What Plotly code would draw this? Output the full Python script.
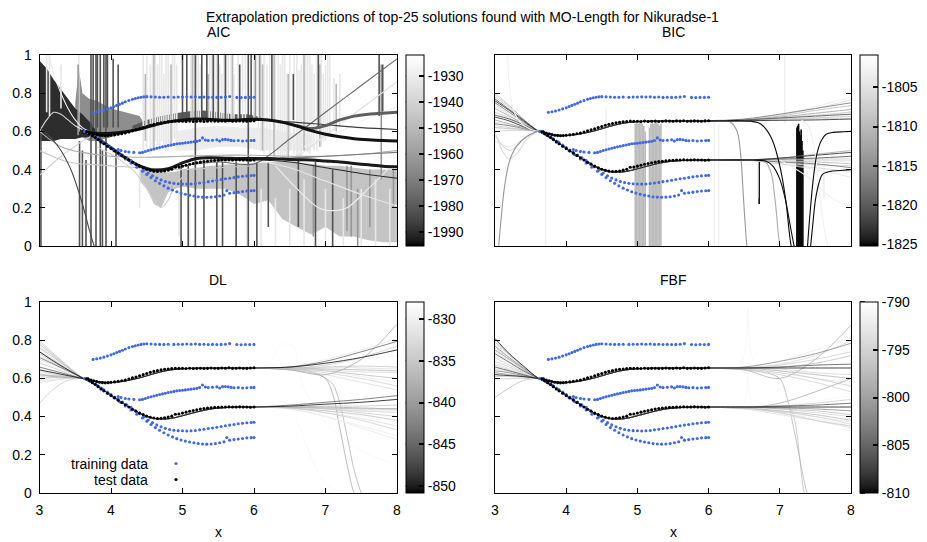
import plotly.graph_objects as go

# ---------------- Nikuradse observations ----------------
TRAIN_A_X = [3.75, 3.80, 3.85, 3.90, 3.95, 4.00, 4.04, 4.08, 4.12, 4.16, 4.20, 4.25, 4.30, 4.34, 4.38,
             4.42, 4.46, 4.50, 4.56, 4.62, 4.68, 4.74, 4.80, 4.88, 4.94, 5.00, 5.06, 5.12, 5.18, 5.24,
             5.30, 5.36, 5.42, 5.48, 5.54, 5.60, 5.66, 5.76, 5.82, 5.88, 5.94, 6.00]
TRAIN_A_Y = [0.700, 0.703, 0.707, 0.712, 0.718, 0.724, 0.730, 0.736, 0.742, 0.748, 0.755, 0.762, 0.768,
             0.772, 0.776, 0.779, 0.781, 0.782, 0.781, 0.780, 0.779, 0.779, 0.780, 0.779, 0.780, 0.780,
             0.781, 0.780, 0.781, 0.779, 0.780, 0.778, 0.779, 0.778, 0.779, 0.780, 0.783, 0.778, 0.777,
             0.778, 0.778, 0.779]
TRAIN_B_X = [4.10, 4.14, 4.20, 4.25, 4.32, 4.40, 4.44, 4.48, 4.52, 4.56, 4.60, 4.64, 4.68, 4.72, 4.76,
             4.80, 4.84, 4.88, 4.92, 4.96, 5.00, 5.04, 5.08, 5.12, 5.16, 5.20, 5.24, 5.28, 5.32, 5.36,
             5.42, 5.48, 5.52, 5.56, 5.60, 5.64, 5.68, 5.72, 5.78, 5.84, 5.90, 5.96, 6.00]
TRAIN_B_Y = [0.505, 0.500, 0.495, 0.492, 0.490, 0.488, 0.490, 0.495, 0.500, 0.504, 0.508, 0.512, 0.516,
             0.519, 0.522, 0.526, 0.529, 0.532, 0.535, 0.537, 0.538, 0.540, 0.542, 0.544, 0.546, 0.548,
             0.552, 0.566, 0.555, 0.552, 0.554, 0.556, 0.550, 0.557, 0.558, 0.556, 0.553, 0.551, 0.552,
             0.550, 0.551, 0.552, 0.553]
TRAIN_C_X = [3.63, 3.67, 3.70, 3.74, 3.78, 3.82, 3.86, 3.90, 3.95, 4.00, 4.05, 4.10, 4.16, 4.22, 4.28,
             4.34, 4.40, 4.46, 4.52, 4.58, 4.64, 4.70, 4.76, 4.82, 4.88, 4.94, 5.00, 5.06, 5.12, 5.18,
             5.24, 5.30, 5.36, 5.42, 5.48, 5.54, 5.60, 5.66, 5.72, 5.78, 5.84, 5.90, 5.96, 6.00]
TRAIN_C_Y = [0.600, 0.595, 0.590, 0.580, 0.570, 0.560, 0.550, 0.540, 0.528, 0.515, 0.502, 0.490, 0.476,
             0.462, 0.448, 0.432, 0.415, 0.398, 0.382, 0.368, 0.356, 0.346, 0.338, 0.332, 0.328, 0.326,
             0.325, 0.324, 0.325, 0.327, 0.330, 0.333, 0.337, 0.340, 0.344, 0.348, 0.352, 0.355, 0.358,
             0.362, 0.365, 0.367, 0.369, 0.370]
TRAIN_D_X = [3.65, 3.72, 3.80, 3.88, 3.96, 4.04, 4.12, 4.20, 4.28, 4.36, 4.44, 4.50, 4.56, 4.62, 4.68,
             4.74, 4.80, 4.86, 4.92, 4.98, 5.04, 5.10, 5.16, 5.22, 5.28, 5.34, 5.40, 5.46, 5.52, 5.58,
             5.62, 5.66, 5.72, 5.78, 5.84, 5.90, 5.96, 6.00]
TRAIN_D_Y = [0.598, 0.585, 0.565, 0.545, 0.522, 0.500, 0.478, 0.456, 0.434, 0.412, 0.392, 0.375, 0.358,
             0.342, 0.328, 0.315, 0.303, 0.293, 0.284, 0.277, 0.271, 0.266, 0.262, 0.258, 0.256, 0.255,
             0.256, 0.258, 0.262, 0.267, 0.290, 0.276, 0.279, 0.282, 0.285, 0.288, 0.289, 0.290]
TEST_E_X = [3.68, 3.72, 3.76, 3.80, 3.84, 3.88, 3.92, 3.96, 4.00, 4.05, 4.10, 4.15, 4.20, 4.25, 4.30,
            4.35, 4.40, 4.45, 4.50, 4.55, 4.60, 4.65, 4.70, 4.75, 4.80, 4.85, 4.90, 4.95, 5.00, 5.05,
            5.10, 5.15, 5.20, 5.25, 5.30, 5.35, 5.40, 5.45, 5.50, 5.55, 5.60, 5.65, 5.70, 5.75, 5.80,
            5.85, 5.90, 5.95, 6.00]
TEST_E_Y = [0.598, 0.592, 0.588, 0.584, 0.580, 0.578, 0.577, 0.578, 0.580, 0.582, 0.585, 0.588, 0.592,
            0.597, 0.603, 0.608, 0.614, 0.620, 0.626, 0.632, 0.637, 0.641, 0.645, 0.648, 0.650, 0.652,
            0.654, 0.653, 0.653, 0.652, 0.654, 0.652, 0.653, 0.654, 0.652, 0.653, 0.655, 0.654, 0.653,
            0.655, 0.654, 0.656, 0.653, 0.654, 0.655, 0.654, 0.653, 0.655, 0.656]
TEST_F_X = [3.66, 3.70, 3.74, 3.78, 3.82, 3.86, 3.90, 3.95, 4.00, 4.05, 4.10, 4.15, 4.20, 4.25, 4.30,
            4.35, 4.40, 4.45, 4.50, 4.55, 4.60, 4.65, 4.70, 4.75, 4.80, 4.85, 4.90, 4.95, 5.00, 5.05,
            5.10, 5.15, 5.20, 5.25, 5.30, 5.35, 5.40, 5.45, 5.50, 5.55, 5.60, 5.65, 5.70, 5.75, 5.80,
            5.85, 5.90, 5.95, 6.00]
TEST_F_Y = [0.598, 0.588, 0.578, 0.568, 0.557, 0.545, 0.535, 0.522, 0.510, 0.498, 0.486, 0.474, 0.462,
            0.450, 0.438, 0.428, 0.418, 0.410, 0.402, 0.396, 0.392, 0.390, 0.391, 0.393, 0.397, 0.402,
            0.412, 0.413, 0.418, 0.423, 0.428, 0.432, 0.436, 0.439, 0.442, 0.444, 0.446, 0.448, 0.449,
            0.450, 0.450, 0.451, 0.450, 0.450, 0.451, 0.450, 0.450, 0.449, 0.450]

# ---------------- shared model knots ----------------
X_LEFT = [3.0, 3.2, 3.4]
X_CORE = [3.6, 3.8, 4.0, 4.2, 4.4, 4.6, 4.8, 5.0, 5.2, 5.4, 5.6, 5.8, 6.0]
X_RIGHT = [6.5, 7.0, 7.5, 8.0]
UPPER_CORE = [0.600, 0.584, 0.578, 0.587, 0.603, 0.625, 0.643, 0.651, 0.654, 0.655, 0.655, 0.655, 0.655]
LOWER_CORE = [0.603, 0.562, 0.512, 0.462, 0.418, 0.390, 0.388, 0.404, 0.424, 0.440, 0.447, 0.450, 0.450]

# ---------------- colour ranges and colorbar ticks ----------------
AIC_CRANGE = [-1995.4, -1921.9]
BIC_CRANGE = [-1825.2, -1800.9]
DL_CRANGE = [-850.8, -828.0]
FBF_CRANGE = [-810.0, -790.0]
AIC_CB_TICKS = [-1990, -1980, -1970, -1960, -1950, -1940, -1930]
BIC_CB_TICKS = [-1825, -1820, -1815, -1810, -1805]
DL_CB_TICKS = [-850, -845, -840, -835, -830]
FBF_CB_TICKS = [-810, -805, -800, -795, -790]
X_TICKS = [3, 4, 5, 6, 7, 8]
Y_TICKS = [0, 0.2, 0.4, 0.6, 0.8, 1]

# ---------------- DL solutions ----------------
DL_SCORES = [-850.5, -845.0, -837.0, -836.0, -835.0, -834.5, -834.0, -833.0, -832.5, -832.0, -831.0,
             -830.5, -829.5, -838.5]
DL_UPPER_LEFT = [[0.645, 0.63, 0.615], [0.66, 0.64, 0.62], [0.62, 0.615, 0.61], [0.60, 0.605, 0.605],
                 [0.47, 0.545, 0.59], [0.68, 0.655, 0.625], [0.64, 0.625, 0.615], [0.58, 0.59, 0.60],
                 [0.61, 0.61, 0.605], [0.63, 0.62, 0.61], [0.59, 0.595, 0.60], [0.655, 0.635, 0.62],
                 [0.60, 0.60, 0.60], [0.62, 0.61, 0.605]]
DL_UPPER_RIGHT = [[0.66, 0.68, 0.71, 0.75], [0.66, 0.69, 0.74, 0.795], [0.655, 0.65, 0.645, 0.64],
                  [0.65, 0.64, 0.62, 0.60], [0.655, 0.66, 0.665, 0.66], [0.655, 0.67, 0.71, 0.77],
                  [0.65, 0.63, 0.60, 0.56], [0.655, 0.645, 0.635, 0.63], [0.65, 0.62, 0.58, 0.54],
                  [0.655, 0.66, 0.655, 0.65], [0.66, 0.70, 0.75, 0.81], [0.655, 0.64, 0.61, 0.58],
                  [0.66, 0.68, 0.70, 0.72], [0.645, 0.62, 0.70, 0.885]]
DL_LOWER_LEFT = [[0.74, 0.69, 0.645], [0.71, 0.675, 0.64], [0.76, 0.71, 0.655], [0.78, 0.72, 0.66],
                 [0.73, 0.685, 0.64], [0.80, 0.73, 0.665], [0.79, 0.725, 0.66], [0.70, 0.67, 0.635],
                 [0.72, 0.68, 0.64], [0.77, 0.715, 0.655], [0.75, 0.70, 0.65], [0.69, 0.66, 0.63],
                 [0.745, 0.70, 0.65], [0.74, 0.695, 0.645]]
DL_LOWER_RIGHT = [[0.455, 0.465, 0.475, 0.49], [0.46, 0.475, 0.49, 0.51], [0.45, 0.445, 0.44, 0.44],
                  [0.445, 0.43, 0.41, 0.38], [0.45, 0.455, 0.455, 0.46], [0.45, 0.44, 0.42, 0.40],
                  [0.445, 0.42, 0.38, 0.33], [0.45, 0.44, 0.43, 0.42], [0.445, 0.42, 0.39, 0.35],
                  [0.45, 0.44, 0.43, 0.43], [0.44, 0.40, 0.34, 0.28], [0.44, 0.40, 0.35, 0.30],
                  [0.445, 0.43, 0.40, 0.37], [0.45, 0.45, 0.445, 0.44]]
DL_SPECIAL_SCORES = [-838.5, -837.5, -829.0, -829.0]
DL_SPECIAL_X = [[6.0, 6.4, 6.8, 7.0, 7.1, 7.2, 7.3, 7.38, 7.45],
                [6.0, 6.5, 6.9, 7.1, 7.2, 7.3, 7.4, 7.47, 7.55],
                [6.0, 6.15, 6.25, 6.32, 6.38, 6.5, 6.56, 6.62, 6.7, 6.85, 7.1, 7.5, 8.0],
                [6.0, 6.2, 6.4, 6.55, 6.7, 6.85, 7.0, 7.2, 7.5, 8.0]]
DL_SPECIAL_Y = [[0.655, 0.65, 0.635, 0.60, 0.52, 0.34, 0.15, 0.02, -0.05],
                [0.655, 0.645, 0.62, 0.57, 0.47, 0.30, 0.12, 0.03, -0.05],
                [0.655, 0.66, 0.70, 0.76, 0.78, 0.78, 0.77, 0.66, 0.55, 0.45, 0.33, 0.22, 0.145],
                [0.45, 0.47, 0.48, 0.42, 0.28, 0.14, 0.05, 0.01, 0.002, 0.0]]

# ---------------- FBF solutions ----------------
FBF_SCORES = [-809.5, -806.0, -802.0, -797.5, -797.0, -796.0, -795.5, -795.0, -794.5, -794.0, -793.0,
              -792.0, -791.0, -798.5]
FBF_UPPER_LEFT = [[0.62, 0.615, 0.61], [0.66, 0.64, 0.62], [0.64, 0.63, 0.615], [0.50, 0.55, 0.59],
                  [0.63, 0.62, 0.61], [0.61, 0.61, 0.605], [0.67, 0.645, 0.62], [0.65, 0.635, 0.615],
                  [0.60, 0.60, 0.60], [0.68, 0.65, 0.625], [0.62, 0.615, 0.61], [0.59, 0.595, 0.60],
                  [0.65, 0.63, 0.615], [0.63, 0.62, 0.61]]
FBF_UPPER_RIGHT = [[0.655, 0.655, 0.655, 0.655], [0.655, 0.66, 0.67, 0.675], [0.66, 0.69, 0.73, 0.785],
                   [0.655, 0.64, 0.62, 0.60], [0.655, 0.66, 0.68, 0.72], [0.65, 0.63, 0.60, 0.56],
                   [0.655, 0.67, 0.70, 0.74], [0.65, 0.62, 0.58, 0.53], [0.655, 0.65, 0.63, 0.62],
                   [0.655, 0.675, 0.72, 0.80], [0.655, 0.64, 0.60, 0.58], [0.66, 0.69, 0.75, 0.82],
                   [0.655, 0.645, 0.62, 0.60], [0.645, 0.60, 0.70, 0.88]]
FBF_LOWER_LEFT = [[0.81, 0.73, 0.665], [0.73, 0.685, 0.64], [0.77, 0.71, 0.655], [0.75, 0.70, 0.65],
                  [0.79, 0.725, 0.66], [0.69, 0.66, 0.63], [0.71, 0.67, 0.635], [0.80, 0.73, 0.665],
                  [0.76, 0.705, 0.65], [0.74, 0.69, 0.645], [0.78, 0.72, 0.66], [0.72, 0.68, 0.64],
                  [0.70, 0.67, 0.635], [0.75, 0.70, 0.65]]
FBF_LOWER_RIGHT = [[0.45, 0.45, 0.45, 0.45], [0.45, 0.455, 0.46, 0.47], [0.45, 0.445, 0.44, 0.43],
                   [0.445, 0.43, 0.41, 0.38], [0.45, 0.44, 0.43, 0.41], [0.445, 0.42, 0.38, 0.35],
                   [0.45, 0.455, 0.47, 0.49], [0.445, 0.425, 0.40, 0.36], [0.45, 0.44, 0.42, 0.40],
                   [0.44, 0.41, 0.38, 0.34], [0.445, 0.43, 0.40, 0.37], [0.44, 0.42, 0.39, 0.35],
                   [0.45, 0.46, 0.48, 0.51], [0.445, 0.47, 0.53, 0.60]]
FBF_SPECIAL_SCORES = [-791.0, -791.0, -798.0, -797.0]
FBF_SPECIAL_X = [[6.0, 6.3, 6.45, 6.5, 6.53, 6.55, 6.57, 6.6, 6.65, 6.8, 7.0],
                 [6.0, 6.35, 6.48, 6.53, 6.55, 6.57, 6.62, 6.75, 7.0],
                 [6.0, 6.5, 6.8, 7.0, 7.1, 7.2, 7.3, 7.36, 7.42],
                 [6.0, 6.5, 6.9, 7.05, 7.15, 7.22, 7.28, 7.33, 7.38]]
FBF_SPECIAL_Y = [[0.655, 0.66, 0.68, 0.72, 0.80, 0.97, 0.80, 0.72, 0.68, 0.66, 0.655],
                 [0.45, 0.45, 0.46, 0.52, 0.63, 0.52, 0.46, 0.45, 0.45],
                 [0.655, 0.645, 0.63, 0.60, 0.50, 0.33, 0.14, 0.03, -0.05],
                 [0.45, 0.45, 0.45, 0.45, 0.44, 0.36, 0.18, 0.02, -0.05]]

# ---------------- BIC solutions ----------------
BIC_SCORES = [-1824.0, -1821.5, -1818.0, -1813.0, -1810.0, -1809.0, -1808.0, -1807.0, -1806.0, -1805.0,
              -1803.5, -1802.0]
BIC_UPPER_LEFT = [[0.675, 0.655, 0.625], [0.685, 0.665, 0.635], [0.64, 0.63, 0.615], [0.66, 0.64, 0.62],
                  [0.62, 0.615, 0.61], [0.58, 0.50, 0.56], [0.60, 0.605, 0.605], [0.63, 0.62, 0.61],
                  [0.65, 0.635, 0.62], [0.55, 0.52, 0.56], [0.62, 0.61, 0.605], [0.64, 0.62, 0.61]]
BIC_UPPER_RIGHT = [[0.656, 0.658, 0.66, 0.665], [0.66, 0.67, 0.68, 0.69], [0.665, 0.69, 0.72, 0.75],
                   [0.66, 0.675, 0.695, 0.715], [0.66, 0.68, 0.71, 0.735], [0.655, 0.665, 0.67, 0.68],
                   [0.66, 0.67, 0.685, 0.70], [0.655, 0.66, 0.665, 0.67], [0.66, 0.685, 0.72, 0.765],
                   [0.655, 0.665, 0.675, 0.705], [0.66, 0.69, 0.73, 0.78], [0.655, 0.67, 0.69, 0.72]]
BIC_LOWER_LEFT = [[0.76, 0.71, 0.655], [0.77, 0.715, 0.66], [0.75, 0.70, 0.65], [0.72, 0.68, 0.64],
                  [0.80, 0.735, 0.665], [0.70, 0.67, 0.635], [0.78, 0.725, 0.66], [0.79, 0.73, 0.665],
                  [0.74, 0.69, 0.645], [0.73, 0.685, 0.64], [0.69, 0.66, 0.63], [0.71, 0.67, 0.635]]
BIC_LOWER_RIGHT = [[0.45, 0.46, 0.475, 0.49], [0.45, 0.455, 0.46, 0.47], [0.45, 0.44, 0.43, 0.41],
                   [0.45, 0.46, 0.48, 0.50], [0.45, 0.445, 0.44, 0.43], [0.45, 0.45, 0.45, 0.45],
                   [0.45, 0.44, 0.425, 0.42], [0.45, 0.43, 0.41, 0.39], [0.45, 0.455, 0.455, 0.46],
                   [0.45, 0.43, 0.40, 0.36], [0.45, 0.44, 0.44, 0.44], [0.45, 0.435, 0.42, 0.40]]
BIC_SPECIAL_SCORES = [-1825.0, -1825.0, -1825.0, -1825.0, -1814.0, -1812.0, -1803.0, -1814.0, -1806.0,
                      -1803.0, -1803.0]
BIC_SPECIAL_X = [[6.0, 6.4, 6.6, 6.7, 6.8, 6.9, 7.0, 7.08, 7.14, 7.18],
                 [6.0, 6.6, 6.8, 6.9, 7.0, 7.08, 7.14, 7.19, 7.23],
                 [7.38, 7.42, 7.47, 7.52, 7.58, 7.65, 7.75, 7.9, 8.0],
                 [7.42, 7.46, 7.5, 7.55, 7.6, 7.7, 7.85, 8.0],
                 [6.0, 6.3, 6.4, 6.45, 6.49, 6.52, 6.55],
                 [6.0, 6.6, 6.8, 6.88, 6.94, 6.98, 7.02],
                 [3.17, 3.19, 3.22, 3.27, 3.35, 3.45, 3.55, 3.65],
                 [3.04, 3.08, 3.13, 3.2, 3.3, 3.45, 3.6],
                 [3.0, 3.1, 3.2, 3.3, 3.45, 3.6],
                 [7.3, 7.4, 7.48, 7.55, 7.62, 7.7],
                 [7.0, 7.4, 7.7, 8.0]]
BIC_SPECIAL_Y = [[0.655, 0.655, 0.653, 0.645, 0.615, 0.55, 0.42, 0.25, 0.05, -0.05],
                 [0.45, 0.45, 0.445, 0.42, 0.35, 0.24, 0.12, 0.02, -0.05],
                 [-0.05, 0.15, 0.35, 0.48, 0.55, 0.585, 0.595, 0.598, 0.60],
                 [-0.05, 0.10, 0.24, 0.33, 0.375, 0.39, 0.395, 0.40],
                 [0.655, 0.65, 0.60, 0.48, 0.25, 0.08, -0.05],
                 [0.45, 0.45, 0.44, 0.38, 0.22, 0.06, -0.05],
                 [1.05, 0.90, 0.78, 0.70, 0.65, 0.62, 0.605, 0.60],
                 [-0.05, 0.12, 0.30, 0.44, 0.52, 0.575, 0.60],
                 [0.60, 0.50, 0.455, 0.48, 0.56, 0.60],
                 [0.66, 0.63, 0.52, 0.30, 0.10, -0.05],
                 [0.45, 0.36, 0.26, 0.20]]
BIC_SPIKE_SCORES = [-1825.0, -1810.0, -1803.0]
BIC_SPIKE_X = [[6.71, 7.24, 7.252, 7.264, 7.276, 7.288, 7.30, 7.312, 7.324],
               [4.97, 4.99, 5.01, 5.03, 5.05, 5.07, 5.09, 5.11, 5.17, 5.19, 5.21, 5.23, 5.25, 5.27, 5.29,
                5.31, 5.33],
               [3.71, 4.56, 6.08, 6.14, 6.69, 7.07, 7.62]]
BIC_SPIKE_LO = [[0.22, 0, 0, 0, 0, 0, 0, 0, 0],
                [0, 0, 0, 0, 0, 0, 0, 0, 0, 0, 0, 0, 0, 0, 0, 0, 0],
                [0.0, 0.43, 0.0, 0.0, 0.25, 0.64, 0.25]]
BIC_SPIKE_HI = [[0.45, 0.62, 0.63, 0.64, 0.60, 0.58, 0.61, 0.55, 0.50],
                [0.64, 0.65, 0.64, 0.66, 0.65, 0.64, 0.63, 0.60, 0.62, 0.64, 0.65, 0.64, 0.66, 0.65, 0.64,
                 0.63, 0.64],
                [0.60, 0.72, 0.65, 0.64, 0.45, 1.0, 0.42]]

# ---------------- AIC solutions ----------------
AIC_NOISY_SCORES = [-1994.0, -1993.0, -1979.0]
AIC_NOISY_X = [[3.6, 3.8, 4.0, 4.2, 4.4, 4.6, 4.8, 5.0, 5.2, 5.4, 5.6, 5.8, 6.0, 6.2, 6.4, 6.6, 6.8, 7.0,
                7.2, 7.4, 7.6, 7.8, 8.0],
               [3.6, 3.8, 4.0, 4.2, 4.4, 4.6, 4.8, 5.0, 5.2, 5.4, 5.6, 5.8, 6.0, 6.2, 6.4, 6.6, 6.8, 7.0,
                7.2, 7.4, 7.6, 7.8, 8.0],
               [6.6, 6.8, 7.0, 7.2, 7.4, 7.6, 7.8, 8.0]]
AIC_NOISY_Y = [[0.60, 0.59, 0.59, 0.598, 0.612, 0.632, 0.65, 0.66, 0.665, 0.662, 0.658, 0.66, 0.664, 0.66,
                0.648, 0.628, 0.604, 0.585, 0.572, 0.562, 0.556, 0.552, 0.55],
               [0.60, 0.565, 0.515, 0.462, 0.42, 0.398, 0.405, 0.435, 0.458, 0.462, 0.46, 0.458, 0.458,
                0.458, 0.455, 0.452, 0.45, 0.445, 0.44, 0.432, 0.425, 0.418, 0.415],
               [0.63, 0.615, 0.63, 0.66, 0.68, 0.69, 0.695, 0.70]]
AIC_LINE_SCORES = [-1991.0, -1987.0, -1976.0, -1984.0, -1971.0, -1935.0, -1929.0, -1932.0, -1955.0,
                   -1940.0, -1945.0, -1930.0, -1938.0, -1942.0, -1928.0]
AIC_LINE_X = [[5.5, 6.0, 6.5, 7.0, 7.5, 8.0],
              [6.0, 6.5, 7.0, 7.5, 8.0],
              [5.0, 5.5, 6.0, 6.5, 7.0, 7.5, 8.0],
              [3.0, 3.15, 3.3, 3.45, 3.6, 3.7, 3.78],
              [6.0, 6.5, 7.0, 7.5, 8.0],
              [6.0, 6.5, 7.0, 7.5, 8.0],
              [6.3, 6.6, 6.9, 7.1, 7.3, 7.6, 8.0],
              [6.0, 6.5, 7.0, 7.5, 8.0],
              [3.0, 3.3, 3.6, 4.0, 4.5, 5.0, 5.5, 6.0, 6.5, 7.0, 7.5, 8.0],
              [3.0, 3.15, 3.3, 3.45, 3.6, 3.75],
              [3.0, 3.4, 3.8, 4.2, 4.6, 5.0, 5.5, 6.0],
              [3.12, 3.2, 3.3, 3.4, 3.5, 3.6, 3.7],
              [3.0, 3.1, 3.2, 3.3, 3.4, 3.5, 3.6],
              [3.8, 4.0, 4.2, 4.35, 4.5, 4.6, 4.7, 4.8, 4.9, 5.0],
              [6.7, 7.2, 7.6, 8.0]]
AIC_LINE_Y = [[0.45, 0.45, 0.44, 0.41, 0.38, 0.355],
              [0.66, 0.65, 0.635, 0.62, 0.61],
              [0.42, 0.44, 0.43, 0.56, 0.70, 0.84, 0.98],
              [0.62, 0.57, 0.50, 0.39, 0.22, 0.08, -0.02],
              [0.455, 0.46, 0.47, 0.48, 0.49],
              [0.44, 0.45, 0.58, 0.72, 0.86],
              [0.42, 0.30, 0.20, 0.185, 0.20, 0.30, 0.45],
              [0.45, 0.41, 0.34, 0.27, 0.21],
              [0.60, 0.52, 0.49, 0.47, 0.465, 0.47, 0.475, 0.475, 0.47, 0.47, 0.48, 0.50],
              [0.37, 0.42, 0.47, 0.51, 0.55, 0.58],
              [0.50, 0.44, 0.425, 0.415, 0.405, 0.40, 0.41, 0.42],
              [1.02, 0.90, 0.80, 0.72, 0.66, 0.62, 0.60],
              [0.60, 0.66, 0.70, 0.69, 0.66, 0.63, 0.61],
              [0.52, 0.48, 0.43, 0.38, 0.30, 0.24, 0.20, 0.24, 0.32, 0.36],
              [0.52, 0.60, 0.67, 0.73]]
# densely oscillating solutions, summarised by their envelope
AIC_BAND_SCORES = [-1930.0, -1946.0, -1965.0, -1980.0, -1990.0]
AIC_BAND_X = [[4.9, 5.2, 5.5, 5.8, 6.1, 6.4, 6.8],
              [4.4, 4.5, 4.6, 4.7, 4.8, 4.9, 5.0, 5.2, 5.4, 5.6, 5.8, 6.0, 6.2, 6.4, 6.6, 6.8, 7.0, 7.2,
               7.4, 7.6, 7.8, 8.0],
              [3.5, 3.55, 3.6, 3.7, 3.8, 3.9, 4.0, 4.1, 4.2, 4.3, 4.4, 4.45],
              [4.3, 4.5, 4.7, 4.9, 5.1, 5.3, 5.5, 5.7, 5.9, 6.1],
              [3.0, 3.1, 3.2, 3.3, 3.4, 3.5, 3.6, 3.7, 3.78]]
AIC_BAND_LO = [[0.50, 0.50, 0.52, 0.52, 0.50, 0.50, 0.50],
               [0.34, 0.30, 0.22, 0.20, 0.28, 0.30, 0.31, 0.30, 0.30, 0.30, 0.27, 0.22, 0.24, 0.14,
                0.10, 0.06, 0.10, 0.05, 0.05, 0.03, 0.02, 0.02],
               [0.58, 0.58, 0.57, 0.55, 0.55, 0.56, 0.57, 0.58, 0.60, 0.61, 0.62, 0.63],
               [0.60, 0.62, 0.64, 0.655, 0.66, 0.66, 0.655, 0.655, 0.66, 0.655],
               [0.55, 0.55, 0.55, 0.56, 0.56, 0.56, 0.57, 0.57, 0.59]]
AIC_BAND_HI = [[0.60, 0.62, 0.63, 0.62, 0.62, 0.60, 0.58],
               [0.40, 0.40, 0.39, 0.385, 0.385, 0.39, 0.395, 0.41, 0.42, 0.425, 0.43, 0.43, 0.44, 0.44,
                0.44, 0.43, 0.42, 0.42, 0.41, 0.40, 0.40, 0.40],
               [0.75, 0.93, 0.80, 0.77, 0.76, 0.74, 0.72, 0.71, 0.70, 0.69, 0.68, 0.65],
               [0.63, 0.66, 0.68, 0.695, 0.705, 0.71, 0.70, 0.69, 0.69, 0.675],
               [0.97, 0.93, 0.87, 0.82, 0.77, 0.72, 0.69, 0.65, 0.61]]
# near-vertical excursions (poles) of the oscillating solutions
AIC_SPIKE_SCORES = [-1932.0, -1950.0, -1962.0, -1982.0]
AIC_SPIKE_X = [[3.10, 3.14, 3.30, 3.55, 4.45, 4.50, 4.55, 4.62, 4.68, 4.74, 4.80, 4.86, 4.92, 5.12, 5.16,
                5.22, 5.38, 5.45, 5.52, 5.58, 5.64, 5.68, 5.72, 5.84, 5.88, 6.00, 6.10, 6.14, 6.18,
                6.30, 6.34, 6.40, 6.46, 6.50, 6.60, 6.66, 6.72, 6.78, 6.84, 6.94, 7.00, 7.06, 7.20,
                4.40, 4.95, 5.10, 5.90, 6.10, 6.30, 6.50, 6.70, 7.00, 7.25, 7.50, 7.70, 7.90,
                4.58, 4.65, 4.71, 4.77, 4.83, 4.89, 5.19, 5.25, 5.41, 5.48, 5.55, 5.61, 5.78, 6.06,
                6.22, 6.37, 6.43, 6.56, 6.63, 6.69, 6.75, 6.81, 6.88, 6.97, 7.03, 7.12],
               [4.48, 4.60, 4.84, 5.14, 5.36, 5.70, 6.12, 6.28, 6.48, 6.70, 6.92, 7.15],
               [3.54, 6.02, 6.08, 6.83, 7.30, 7.36, 7.45, 7.62, 7.78, 7.95],
               [3.02, 3.56, 3.60, 3.65, 3.72, 3.75, 3.79, 3.81, 3.85, 3.88, 3.90, 3.93, 3.95, 4.03,
                4.07, 4.10, 4.98, 5.00, 5.06, 5.08, 5.18, 5.27, 5.30, 5.34, 5.43, 5.48, 5.50, 5.56,
                5.60, 5.75, 5.80, 5.92, 5.96, 6.04, 6.20, 6.25, 6.55, 6.62, 6.86, 6.90, 7.10, 7.75,
                7.80]]
AIC_SPIKE_LO = [[0.70, 0.68, 0.72, 0.60, 0.50, 0.52, 0.48, 0.55, 0.50, 0.52, 0.50, 0.55, 0.60, 0.66,
                 0.66, 0.66, 0.66, 0.66, 0.66, 0.64, 0.64, 0.66, 0.66, 0.64, 0.64, 0.66, 0.50, 0.48,
                 0.50, 0.45, 0.47, 0.45, 0.46, 0.50, 0.45, 0.47, 0.50, 0.48, 0.50, 0.52, 0.55, 0.58,
                 0.62, 0.20, 0.05, 0.0, 0.0, 0.0, 0.0, 0.0, 0.0, 0.0, 0.0, 0.0, 0.0, 0.0,
                 0.50, 0.52, 0.55, 0.50, 0.53, 0.56, 0.66, 0.66, 0.66, 0.65, 0.66, 0.64, 0.66, 0.60,
                 0.48, 0.47, 0.46, 0.48, 0.46, 0.50, 0.49, 0.52, 0.50, 0.55, 0.57, 0.60],
                [0.55, 0.50, 0.52, 0.66, 0.66, 0.66, 0.50, 0.47, 0.46, 0.50, 0.52, 0.60],
                [0.58, 0.66, 0.66, 0.05, 0.08, 0.05, 0.0, 0.10, 0.35, 0.20],
                [0.0, 0.0, 0.0, 0.0, 0.0, 0.62, 0.0, 0.62, 0.0, 0.0, 0.62, 0.0, 0.62, 0.62, 0.0, 0.62,
                 0.0, 0.67, 0.67, 0.0, 0.0, 0.67, 0.0, 0.67, 0.67, 0.0, 0.66, 0.0, 0.66, 0.0, 0.66,
                 0.0, 0.66, 0.0, 0.10, 0.66, 0.66, 0.10, 0.0, 0.62, 0.0, 0.68, 0.70]]
AIC_SPIKE_HI = [[1.0, 1.0, 0.95, 1.0, 1.0, 1.0, 0.95, 1.0, 1.0, 0.9, 1.0, 1.0, 0.95, 1.0, 1.0, 1.0,
                 1.0, 1.0, 0.95, 1.0, 1.0, 1.0, 0.9, 1.0, 1.0, 1.0, 1.0, 1.0, 0.95, 1.0, 1.0, 1.0, 0.9,
                 1.0, 1.0, 0.95, 1.0, 1.0, 0.9, 1.0, 0.95, 1.0, 0.9, 0.40, 0.30, 0.30, 0.25, 0.30,
                 0.25, 0.30, 0.35, 0.30, 0.25, 0.30, 0.35, 0.30,
                 1.0, 0.95, 1.0, 1.0, 0.92, 1.0, 1.0, 0.95, 1.0, 1.0, 0.9, 1.0, 1.0, 1.0,
                 1.0, 0.95, 1.0, 1.0, 0.92, 1.0, 1.0, 0.95, 1.0, 0.9, 1.0, 0.88],
                [0.9, 1.0, 0.95, 1.0, 0.9, 1.0, 0.95, 1.0, 0.9, 1.0, 0.95, 0.85],
                [0.95, 1.0, 1.0, 0.42, 0.42, 0.42, 0.30, 0.40, 0.95, 0.40],
                [0.60, 0.55, 0.50, 0.45, 1.0, 1.0, 1.0, 1.0, 1.0, 0.50, 1.0, 1.0, 1.0, 0.98, 0.50,
                 0.95, 0.42, 1.0, 1.0, 0.42, 1.0, 1.0, 0.44, 1.0, 1.0, 0.44, 1.0, 0.44, 1.0, 0.44,
                 0.95, 1.0, 1.0, 0.44, 0.44, 1.0, 0.90, 0.45, 0.44, 1.0, 0.40, 1.0, 0.95]]

# ---------------- layout geometry ----------------
FONT = "Liberation Sans, Arial, sans-serif"
FS = 14
W, H = 927, 542
LEFT_DOM = [39.5 / W, 397 / W]
RIGHT_DOM = [495 / W, 851 / W]
TOP_DOM = [1 - 246 / H, 1 - 55 / H]
BOT_DOM = [1 - 492.7 / H, 1 - 302.3 / H]
CB_LEN = 191
PALETTE_GAMMA = 1.5


def gray_level(t):
    """Gray palette with gamma correction: 0 -> black, 1 -> white."""
    t = min(max(t, 0.0), 1.0)
    return round(255 * t ** (1 / PALETTE_GAMMA))


GRAY_SCALE = []
for i in range(41):
    g = gray_level(i / 40)
    GRAY_SCALE.append([i / 40, "rgb(%d,%d,%d)" % (g, g, g)])

fig = go.Figure()


def shade(score, crange):
    g = gray_level((score - crange[0]) / (crange[1] - crange[0]))
    return "rgb(%d,%d,%d)" % (g, g, g)


def add_curve(xa, ya, x, y, color, width=0.8):
    fig.add_trace(go.Scatter(x=x, y=y, mode="lines", xaxis=xa, yaxis=ya, hoverinfo="skip",
                             showlegend=False,
                             line=dict(color=color, width=width, shape="spline", smoothing=0.9)))


def add_models(xa, ya, crange, scores, ul, ur, ll, lr):
    order = sorted(range(len(scores)), key=lambda i: -scores[i])
    xs = X_LEFT + X_CORE + X_RIGHT
    for i in order:
        c = shade(scores[i], crange)
        add_curve(xa, ya, xs, ul[i] + UPPER_CORE + ur[i], c)
        add_curve(xa, ya, xs, ll[i] + LOWER_CORE + lr[i], c)


def add_specials(xa, ya, crange, scores, xs, ys, width=0.8):
    order = sorted(range(len(scores)), key=lambda i: -scores[i])
    for i in order:
        add_curve(xa, ya, xs[i], ys[i], shade(scores[i], crange), width)


def add_spikes(xa, ya, crange, score, xs, lo, hi, width=1.3):
    px, py = [], []
    for x, a, b in zip(xs, lo, hi):
        px += [x, x, None]
        py += [a, b, None]
    fig.add_trace(go.Scatter(x=px, y=py, mode="lines", xaxis=xa, yaxis=ya, hoverinfo="skip",
                             showlegend=False, line=dict(color=shade(score, crange), width=width)))


def add_band(xa, ya, crange, score, xs, lo, hi):
    fig.add_trace(go.Scatter(x=xs + xs[::-1], y=lo + hi[::-1], mode="lines", fill="toself",
                             fillcolor=shade(score, crange), xaxis=xa, yaxis=ya, hoverinfo="skip",
                             showlegend=False, line=dict(width=0, color=shade(score, crange))))


def add_data(xa, ya):
    for xs, ys in [(TRAIN_A_X, TRAIN_A_Y), (TRAIN_B_X, TRAIN_B_Y), (TRAIN_C_X, TRAIN_C_Y),
                   (TRAIN_D_X, TRAIN_D_Y)]:
        fig.add_trace(go.Scatter(x=xs, y=ys, mode="markers", xaxis=xa, yaxis=ya, hoverinfo="skip",
                                 showlegend=False, marker=dict(size=3.1, color="#4169e1")))
    for xs, ys in [(TEST_E_X, TEST_E_Y), (TEST_F_X, TEST_F_Y)]:
        fig.add_trace(go.Scatter(x=xs, y=ys, mode="markers", xaxis=xa, yaxis=ya, hoverinfo="skip",
                                 showlegend=False, marker=dict(size=3.1, color="#000000")))


shapes = []


def add_colorbar(xa, ya, crange, ticks, cb_x, cb_y):
    fig.add_trace(go.Scatter(
        x=[None], y=[None], mode="markers", xaxis=xa, yaxis=ya, hoverinfo="skip", showlegend=False,
        marker=dict(color=[crange[0]], cmin=crange[0], cmax=crange[1], colorscale=GRAY_SCALE,
                    showscale=True,
                    colorbar=dict(x=cb_x, xanchor="left", y=cb_y, yanchor="middle", len=CB_LEN,
                                  lenmode="pixels", thickness=18, thicknessmode="pixels",
                                  outlinewidth=1, outlinecolor="black", xpad=0, ypad=0,
                                  ticks="inside", ticklen=5, tickcolor="black", tickwidth=1.5,
                                  tickvals=ticks, ticktext=[str(t) for t in ticks],
                                  tickfont=dict(family=FONT, size=FS, color="black")))))
    # matching tick dashes on the inner left edge of the bar
    bottom = cb_y - CB_LEN / 2 / H
    for v in ticks:
        yy = bottom + (v - crange[0]) / (crange[1] - crange[0]) * CB_LEN / H
        shapes.append(dict(type="line", xref="paper", yref="paper", x0=cb_x, x1=cb_x + 5 / W,
                           y0=yy, y1=yy, line=dict(color="black", width=1.5)))


# ---- AIC (top left) ----
for k in sorted(range(len(AIC_BAND_SCORES)), key=lambda i: -AIC_BAND_SCORES[i]):
    add_band("x", "y", AIC_CRANGE, AIC_BAND_SCORES[k], AIC_BAND_X[k], AIC_BAND_LO[k], AIC_BAND_HI[k])
for k in range(len(AIC_SPIKE_SCORES)):
    add_spikes("x", "y", AIC_CRANGE, AIC_SPIKE_SCORES[k], AIC_SPIKE_X[k], AIC_SPIKE_LO[k],
               AIC_SPIKE_HI[k], 1.6)
add_specials("x", "y", AIC_CRANGE, AIC_LINE_SCORES, AIC_LINE_X, AIC_LINE_Y, 1.1)
add_specials("x", "y", AIC_CRANGE, AIC_NOISY_SCORES, AIC_NOISY_X, AIC_NOISY_Y, 3.0)
add_data("x", "y")
add_colorbar("x", "y", AIC_CRANGE, AIC_CB_TICKS, 405.7 / W, 1 - 150.5 / H)

# ---- BIC (top right) ----
for k in range(len(BIC_SPIKE_SCORES)):
    add_spikes("x2", "y2", BIC_CRANGE, BIC_SPIKE_SCORES[k], BIC_SPIKE_X[k], BIC_SPIKE_LO[k],
               BIC_SPIKE_HI[k], 1.6)
add_models("x2", "y2", BIC_CRANGE, BIC_SCORES, BIC_UPPER_LEFT, BIC_UPPER_RIGHT, BIC_LOWER_LEFT,
           BIC_LOWER_RIGHT)
add_specials("x2", "y2", BIC_CRANGE, BIC_SPECIAL_SCORES, BIC_SPECIAL_X, BIC_SPECIAL_Y, 1.1)
add_data("x2", "y2")
add_colorbar("x2", "y2", BIC_CRANGE, BIC_CB_TICKS, 860 / W, 1 - 150.5 / H)

# ---- DL (bottom left) ----
add_specials("x3", "y3", DL_CRANGE, DL_SPECIAL_SCORES, DL_SPECIAL_X, DL_SPECIAL_Y)
add_models("x3", "y3", DL_CRANGE, DL_SCORES, DL_UPPER_LEFT, DL_UPPER_RIGHT, DL_LOWER_LEFT,
           DL_LOWER_RIGHT)
add_data("x3", "y3")
add_colorbar("x3", "y3", DL_CRANGE, DL_CB_TICKS, 405.7 / W, 1 - 397.5 / H)

# ---- FBF (bottom right) ----
add_specials("x4", "y4", FBF_CRANGE, FBF_SPECIAL_SCORES, FBF_SPECIAL_X, FBF_SPECIAL_Y)
add_models("x4", "y4", FBF_CRANGE, FBF_SCORES, FBF_UPPER_LEFT, FBF_UPPER_RIGHT, FBF_LOWER_LEFT,
           FBF_LOWER_RIGHT)
add_data("x4", "y4")
add_colorbar("x4", "y4", FBF_CRANGE, FBF_CB_TICKS, 860 / W, 1 - 397.5 / H)


def axis(domain, anchor, ticks, labels):
    return dict(domain=domain, anchor=anchor, range=[min(ticks), max(ticks)], tickvals=ticks,
                showticklabels=labels, ticks="inside", ticklen=5, tickcolor="black", showline=True,
                linecolor="black", linewidth=1, mirror="ticks", showgrid=False, zeroline=False,
                automargin=False, ticklabelstandoff=4,
                tickfont=dict(family=FONT, size=FS, color="black"))


annotations = [
    dict(text="Extrapolation predictions of top-25 solutions found with MO-Length for Nikuradse-1",
         x=462 / W, y=1 - 17 / H),
    dict(text="AIC", x=218.25 / W, y=1 - 31.5 / H),
    dict(text="BIC", x=673 / W, y=1 - 31.5 / H),
    dict(text="DL", x=218.25 / W, y=1 - 279.5 / H),
    dict(text="FBF", x=673 / W, y=1 - 279.5 / H),
    dict(text="x", x=218.25 / W, y=1 - 532 / H),
    dict(text="x", x=673 / W, y=1 - 532 / H),
    dict(text="training data", x=150 / W, y=1 - 464.3 / H, xanchor="right"),
    dict(text="test data", x=150 / W, y=1 - 480 / H, xanchor="right"),
]
for a in annotations:
    a.update(xref="paper", yref="paper", showarrow=False, yanchor="middle",
             font=dict(family=FONT, size=FS, color="black"))
    a.setdefault("xanchor", "center")

for yy, col in [(1 - 463.5 / H, "#4169e1"), (1 - 479.5 / H, "#000000")]:
    shapes.append(dict(type="circle", xref="paper", yref="paper", xsizemode="pixel",
                       ysizemode="pixel", xanchor=176 / W, yanchor=yy, x0=-1.6, x1=1.6, y0=-1.6,
                       y1=1.6, fillcolor=col, line=dict(width=0)))

fig.update_layout(
    width=W, height=H, margin=dict(l=0, r=0, t=0, b=0), paper_bgcolor="white", plot_bgcolor="white",
    font=dict(family=FONT, size=FS, color="black"), showlegend=False,
    xaxis=axis(LEFT_DOM, "y", X_TICKS, False), yaxis=axis(TOP_DOM, "x", Y_TICKS, True),
    xaxis2=axis(RIGHT_DOM, "y2", X_TICKS, False), yaxis2=axis(TOP_DOM, "x2", Y_TICKS, False),
    xaxis3=axis(LEFT_DOM, "y3", X_TICKS, True), yaxis3=axis(BOT_DOM, "x3", Y_TICKS, True),
    xaxis4=axis(RIGHT_DOM, "y4", X_TICKS, True), yaxis4=axis(BOT_DOM, "x4", Y_TICKS, False),
    annotations=annotations, shapes=shapes,
)

fig.write_html("out.html")
